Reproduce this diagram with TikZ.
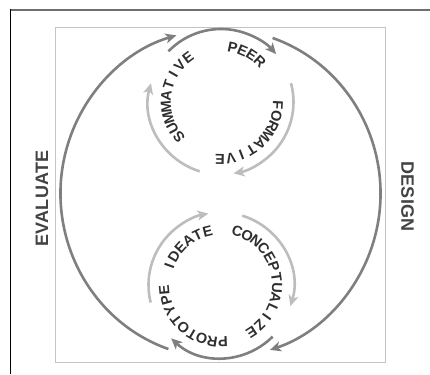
\documentclass[tikz,border=0pt]{standalone}
\usepackage{fontspec}
\setmainfont{Liberation Sans}
\newfontfamily\wordfont{Liberation Sans}
\newfontfamily\bigfont{Liberation Sans}[LetterSpace=2]
\usetikzlibrary{arrows.meta}
\definecolor{darkarc}{HTML}{7F7F7F}
\definecolor{lightarc}{HTML}{BDBDBD}
\definecolor{txt}{HTML}{2E2E2E}
\definecolor{framegray}{HTML}{6E6E6E}
\definecolor{boxgray}{HTML}{C4C4C4}
% #1 word id, #2 centre, #3 radius, #4 first angle, #5 last angle, #6 count, #7 letters
\newcommand\arcword[7]{%
  \foreach \ch [count=\k from 0] in {#7} {%
    \pgfmathsetmacro\ang{#4+\k*((#5)-(#4))/(#6-1)}%
    \node[wordchar, rotate=\ang-90] (#1-\k) at ([shift={(\ang:#3)}]#2) {\ch};
  }}
\begin{document}
\begin{tikzpicture}[x=1pt,y=1pt,
  darkline/.style={draw=darkarc, line width=2.6pt},
  lightline/.style={draw=lightarc, line width=2.6pt},
  tip/.style={-{Stealth[length=11pt,width=10pt,inset=3pt]}},
  wordchar/.style={font=\fontsize{14.5}{14.5}\selectfont\wordfont\bfseries, text=txt, inner sep=0pt, anchor=center},
  biglabel/.style={font=\fontsize{18}{18}\selectfont\bigfont\bfseries, text=txt!90!white, inner sep=0pt}]
\useasboundingbox (0,0) rectangle (430,374);
% frame
\draw[framegray, line width=2pt] (10,364) -- (430,364);
\draw[black, line width=1.3pt] (10.5,365) -- (10.5,0);
\draw[boxgray, line width=0.9pt] (55,12) rectangle (385,347);
% centres
\coordinate (B) at (220.5,180.5);
\coordinate (U) at (221,272);
\coordinate (L) at (221,89);
% big loop
\draw[darkline,tip] ([shift={(-109:160pt and 164.5pt)}]B) arc[start angle=-109, end angle=-254, x radius=160pt, y radius=164.5pt];
\draw[darkline,tip] ([shift={(71:160pt and 164.5pt)}]B) arc[start angle=71, end angle=-72, x radius=160pt, y radius=164.5pt];
% upper circle
\draw[darkline,tip] ([shift={(136:73pt)}]U) arc[start angle=136, end angle=41, radius=73pt];
\draw[lightline,tip] ([shift={(253:72.5pt)}]U) arc[start angle=253, end angle=165, radius=72.5pt];
\draw[lightline,tip] ([shift={(15:72.5pt)}]U) arc[start angle=15, end angle=-80, radius=72.5pt];
% lower circle
\draw[darkline,tip] ([shift={(-45:73pt)}]L) arc[start angle=-45, end angle=-133, radius=73pt];
\draw[lightline,tip] ([shift={(194:72.5pt)}]L) arc[start angle=194, end angle=100, radius=72.5pt];
\draw[lightline,tip] ([shift={(73:72.5pt)}]L) arc[start angle=73, end angle=-17, radius=72.5pt];
% curved words
\arcword{peer}{U}{56pt}{78}{46}{4}{P,E,E,R}
\arcword{summ}{U}{55pt}{220}{127}{9}{S,U,M,M,A,T,I,V,E}
\arcword{form}{U}{57pt}{-3}{-91}{9}{F,O,R,M,A,T,I,V,E}
\arcword{idea}{L}{55pt}{160}{104}{6}{I,D,E,A,T,E}
\arcword{conc}{L}{56pt}{73}{-57}{13}{C,O,N,C,E,P,T,U,A,L,I,Z,E}
\arcword{prot}{L}{57pt}{-88}{-175}{9}{P,R,O,T,O,T,Y,P,E}
% side labels
\node[biglabel, rotate=90] (ev) at (42,175.5) {EVALUATE};
\node[biglabel, rotate=-90] (de) at (407.5,177.5) {DESIGN};
\end{tikzpicture}
\end{document}
